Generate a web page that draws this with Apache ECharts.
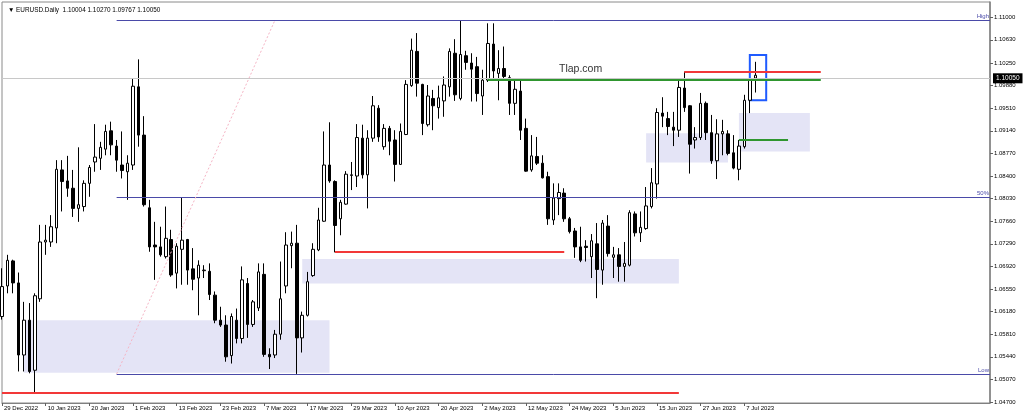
<!DOCTYPE html>
<html>
<head>
<meta charset="utf-8">
<script src="https://cdn.jsdelivr.net/npm/echarts@6/dist/echarts.min.js"></script>
<style>
html,body{margin:0;padding:0;background:#fff;}
#chart{width:1024px;height:418px;}
</style>
</head>
<body>
<div id="chart"></div>
<script>
const symbolName = 'EURUSD.Daily';
const tickLabels = ['29 Dec 2022','10 Jan 2023','20 Jan 2023','1 Feb 2023','13 Feb 2023','23 Feb 2023','7 Mar 2023','17 Mar 2023','29 Mar 2023','10 Apr 2023','20 Apr 2023','2 May 2023','12 May 2023','24 May 2023','5 Jun 2023','15 Jun 2023','27 Jun 2023','7 Jul 2023'];
const priceTicks = [1.0470,1.0507,1.0544,1.0581,1.0618,1.0655,1.0692,1.0729,1.0766,1.0803,1.0840,1.0877,1.0914,1.0951,1.0988,1.1025,1.1063,1.1100];

const opens = [1.0610,1.0660,1.0701,1.0665,1.0547,1.0604,1.0522,1.0639,1.0732,1.0732,
1.0755,1.0850,1.0832,1.0820,1.0787,1.0790,1.0828,1.0863,1.0869,1.0884,
1.0914,1.0889,1.0858,1.0847,1.0858,1.0986,1.0907,1.0788,1.0727,1.0724,
1.0708,1.0736,1.0681,1.0720,1.0736,1.0688,1.0673,1.0685,1.0684,1.0645,
1.0604,1.0596,1.0546,1.0604,1.0574,1.0664,1.0597,1.0624,1.0679,1.0548,
1.0547,1.0581,1.0660,1.0726,1.0730,1.0575,1.0612,1.0677,1.0719,1.0766,
1.0858,1.0831,1.0770,1.0794,1.0841,1.0840,1.0902,1.0842,1.0902,1.0951,
1.0888,1.0918,1.0899,1.0859,1.0908,1.0988,1.1044,1.0990,1.0924,1.0967,
1.0952,1.0963,1.0986,1.1041,1.0967,1.1037,1.1025,1.1019,1.0971,1.0997,
1.1056,1.1008,1.1016,1.1001,1.0959,1.0979,1.0918,1.0850,1.0872,1.0861,
1.0839,1.0768,1.0803,1.0812,1.0770,1.0750,1.0724,1.0725,1.0708,1.0729,
1.0686,1.0758,1.0707,1.0711,1.0692,1.0694,1.0778,1.0747,1.0754,1.0790,
1.0827,1.0943,1.0934,1.0920,1.0915,1.0984,1.0955,1.0899,1.0903,1.0959,
1.0911,1.0865,1.0909,1.0909,1.0878,1.0851,1.0888,1.0964,1.10004];

const closes = [1.0659,1.0702,1.0665,1.0547,1.0604,1.0520,1.0644,1.0732,1.0735,1.0757,
1.0851,1.0831,1.0820,1.0787,1.0793,1.0828,1.0854,1.0871,1.0887,1.0913,
1.0891,1.0866,1.0849,1.0861,1.0987,1.0907,1.0793,1.0724,1.0724,1.0711,
1.0738,1.0678,1.0725,1.0735,1.0686,1.0671,1.0694,1.0686,1.0646,1.0604,
1.0596,1.0544,1.0610,1.0574,1.0670,1.0597,1.0634,1.0683,1.0548,1.0544,
1.0581,1.0639,1.0727,1.0730,1.0575,1.0612,1.0667,1.0720,1.0768,1.0858,
1.0832,1.0759,1.0797,1.0843,1.0842,1.0903,1.0842,1.0902,1.0955,1.0904,
1.0918,1.0897,1.0859,1.0913,1.0990,1.1046,1.0992,1.0926,1.0971,1.0955,
1.0968,1.0989,1.1044,1.0973,1.1039,1.1026,1.1015,1.0975,1.0997,1.1057,
1.1012,1.1016,1.1003,1.0959,1.0982,1.0915,1.0848,1.0873,1.0861,1.0837,
1.0770,1.0804,1.0813,1.0770,1.0749,1.0724,1.0702,1.0723,1.0734,1.0687,
1.0763,1.0713,1.0711,1.0692,1.0697,1.0780,1.0747,1.0756,1.0791,1.0829,
1.0944,1.0938,1.0921,1.0915,1.0985,1.0952,1.0892,1.0903,1.0959,1.0911,
1.0865,1.0909,1.0913,1.0877,1.0853,1.0889,1.0964,1.0998,1.10050];

const lows = [1.0605,1.0648,1.0648,1.0520,1.0520,1.0517,1.0485,1.0634,1.0711,1.0724,
1.0730,1.0782,1.0806,1.0773,1.0765,1.0782,1.0806,1.0847,1.0850,1.0874,
1.0874,1.0847,1.0836,1.0801,1.0850,1.0888,1.0790,1.0716,1.0670,1.0708,
1.0705,1.0675,1.0656,1.0662,1.0662,1.0653,1.0612,1.0673,1.0637,1.0599,
1.0593,1.0536,1.0533,1.0566,1.0566,1.0575,1.0593,1.0619,1.0544,1.0524,
1.0542,1.0572,1.0648,1.0689,1.0516,1.0551,1.0610,1.0675,1.0717,1.0765,
1.0829,1.0715,1.0743,1.0793,1.0817,1.0822,1.0836,1.0787,1.0896,1.0896,
1.0883,1.0874,1.0831,1.0858,1.0907,1.0986,1.0970,1.0907,1.0921,1.0915,
1.0934,1.0937,1.0970,1.0963,1.0964,1.1014,1.0962,1.0962,1.0940,1.0994,
1.0997,1.0964,1.1000,1.0940,1.0940,1.0899,1.0847,1.0847,1.0858,1.0836,
1.0760,1.0760,1.0776,1.0765,1.0746,1.0706,1.0699,1.0700,1.0673,1.0640,
1.0662,1.0708,1.0673,1.0667,1.0667,1.0692,1.0741,1.0732,1.0752,1.0787,
1.0803,1.0920,1.0907,1.0889,1.0904,1.0945,1.0844,1.0885,1.0899,1.0899,
1.0860,1.0835,1.0874,1.0874,1.0851,1.0833,1.0885,1.0943,1.09767];

const highs = [1.0689,1.0711,1.0703,1.0682,1.0634,1.0632,1.0648,1.0760,1.0760,1.0776,
1.0866,1.0866,1.0873,1.0850,1.0887,1.0833,1.0858,1.0925,1.0896,1.0924,
1.0929,1.0899,1.0913,1.0874,1.1000,1.1031,1.0938,1.0801,1.0765,1.0757,
1.0790,1.0752,1.0730,1.0805,1.0737,1.0722,1.0702,1.0694,1.0697,1.0651,
1.0626,1.0612,1.0615,1.0623,1.0692,1.0673,1.0637,1.0697,1.0697,1.0558,
1.0588,1.0700,1.0748,1.0749,1.0760,1.0618,1.0683,1.0730,1.0788,1.0913,
1.0928,1.0833,1.0801,1.0848,1.0863,1.0925,1.0924,1.0915,1.0971,1.0956,
1.0925,1.0922,1.0915,1.0926,1.0997,1.1065,1.1074,1.0991,1.0989,1.0981,
1.0988,1.1003,1.1049,1.1064,1.1095,1.1045,1.1041,1.1035,1.1014,1.1090,
1.1090,1.1046,1.1052,1.1005,1.0997,1.0997,1.0934,1.0907,1.0904,1.0874,
1.0847,1.0828,1.0828,1.0820,1.0773,1.0755,1.0757,1.0735,1.0745,1.0763,
1.0768,1.0776,1.0724,1.0722,1.0732,1.0784,1.0782,1.0782,1.0822,1.0853,
1.0951,1.0969,1.0945,1.0945,1.0997,1.1011,1.0956,1.0920,1.0976,1.0962,
1.0940,1.0933,1.0932,1.0915,1.0907,1.0899,1.0973,1.0999,1.10270];

// annotation levels (price units) and bar-index spans
const fibLevels = [1.1095, 1.08055, 1.0516];
const fibNames = ['High', '50%', 'Low'];
const fibStartBar = 21;
const fibTrend = [[21, 1.0516], [50, 1.1095]];
const redLevels = [[0, 124, 1.0485], [61, 103, 1.0716], [125, 150, 1.1011]];
const greenLevels = [[89, 150, 1.0998], [135, 144, 1.0900]];
const zones = [[4, 60, 1.0604, 1.0518], [55, 124, 1.0704, 1.0664], [118, 133, 1.0910, 1.0862], [135, 148, 1.0943, 1.0880]];
const focusBox = [137, 140, 1.1038, 1.0964];
const watermark = [106, 1.1015, 'Tlap.com'];
const totalSlots = 182;

// categories: weekday dates starting 29 Dec 2022
const categories = [];
(function(){
  const d = new Date(Date.UTC(2022, 11, 29));
  while (categories.length < totalSlots) {
    const wd = d.getUTCDay();
    if (wd !== 0 && wd !== 6) categories.push(d.toISOString().slice(0, 10));
    d.setUTCDate(d.getUTCDate() + 1);
  }
})();

const candles = opens.map((o, i) => [o, closes[i], lows[i], highs[i]]);
const last = opens.length - 1;
const lastPrice = closes[last];
const fmt = v => v.toFixed(5);

const FONT = 'Liberation Sans, Arial, sans-serif';
const fibColor = '#4a4aa8';
const showTick = idx => idx % 8 === 0 && idx / 8 < tickLabels.length;

const markLines = [];
markLines.push({
  yAxis: lastPrice,
  lineStyle: { color: '#c8c8c8', width: 1, type: 'solid' },
  label: { show: true, position: 'end', formatter: fmt(lastPrice), backgroundColor: '#000', color: '#fff',
           fontSize: 6.5, fontFamily: FONT, padding: [2, 3, 1, 3], distance: 3 }
});
fibLevels.forEach((lv, k) => {
  markLines.push([
    { coord: [fibStartBar, lv], lineStyle: { color: fibColor, width: 1, type: 'solid' },
      label: { show: true, position: 'insideEndTop', formatter: fibNames[k], color: fibColor, fontSize: 6, fontFamily: FONT, distance: 1 } },
    { coord: [totalSlots - 1, lv] }
  ]);
});
markLines.push([
  { coord: fibTrend[0], lineStyle: { color: '#f5b5c5', width: 1, type: [2, 2] } },
  { coord: fibTrend[1] }
]);
redLevels.forEach(r => markLines.push([
  { coord: [r[0], r[2]], lineStyle: { color: '#f23838', width: 2, type: 'solid' } },
  { coord: [r[1], r[2]] }
]));
greenLevels.forEach(g => markLines.push([
  { coord: [g[0], g[2]], lineStyle: { color: '#2f962f', width: 2, type: 'solid' } },
  { coord: [g[1], g[2]] }
]));

const areas = zones.map(z => [
  { coord: [z[0], z[2]], itemStyle: { color: '#e4e4f6', borderWidth: 0 } },
  { coord: [z[1], z[3]] }
]);
areas.push([
  { coord: [focusBox[0], focusBox[2]], itemStyle: { color: 'rgba(0,0,0,0)', borderColor: '#1f5bff', borderWidth: 2 } },
  { coord: [focusBox[1], focusBox[3]] }
]);

const chart = echarts.init(document.getElementById('chart'), null, { renderer: 'canvas' });
chart.setOption({
  animation: false,
  backgroundColor: '#fff',
  title: {
    text: '\u25BC ' + symbolName + '  ' + [opens[last], highs[last], lows[last], closes[last]].map(fmt).join(' '),
    left: 3, top: 2,
    textStyle: { fontSize: 6.4, fontWeight: 'normal', color: '#000', fontFamily: FONT }
  },
  grid: { left: 2, right: 34, top: 2, bottom: 15, show: true, borderColor: '#8a8a8a', borderWidth: 1, backgroundColor: 'rgba(0,0,0,0)' },
  xAxis: {
    type: 'category',
    data: categories,
    boundaryGap: false,
    axisLine: { show: true, lineStyle: { color: '#808080', width: 1 } },
    axisTick: { show: true, interval: showTick, length: 3, lineStyle: { color: '#606060' } },
    axisLabel: {
      show: true, interval: showTick, align: 'left', margin: 2, padding: [0, 0, 0, 2],
      formatter: (v, idx) => tickLabels[idx / 8] || '',
      fontSize: 6, color: '#000', fontFamily: FONT
    },
    splitLine: { show: false }
  },
  yAxis: {
    type: 'value',
    position: 'right',
    min: 1.04684,
    max: 1.11249,
    axisLine: { show: true, lineStyle: { color: '#808080', width: 1.5 } },
    axisTick: { show: true, customValues: priceTicks, length: 3, lineStyle: { color: '#606060' } },
    axisLabel: { show: true, customValues: priceTicks, formatter: v => fmt(v), fontSize: 6, color: '#000', margin: 4, fontFamily: FONT },
    splitLine: { show: false }
  },
  series: [{
    type: 'candlestick',
    name: symbolName,
    data: candles,
    barWidth: 3,
    itemStyle: { color: '#ffffff', color0: '#000000', borderColor: '#000000', borderColor0: '#000000', borderWidth: 1 },
    markArea: { silent: true, data: areas },
    markLine: { silent: true, symbol: ['none', 'none'], label: { show: false }, data: markLines },
    markPoint: {
      silent: true,
      data: [{
        coord: [watermark[0], watermark[1]], symbol: 'rect', symbolSize: [1, 1],
        itemStyle: { color: 'rgba(0,0,0,0)' },
        label: { show: true, formatter: watermark[2], position: 'inside', fontSize: 10.5, color: '#333', fontFamily: FONT }
      }]
    }
  }]
});
</script>
</body>
</html>
